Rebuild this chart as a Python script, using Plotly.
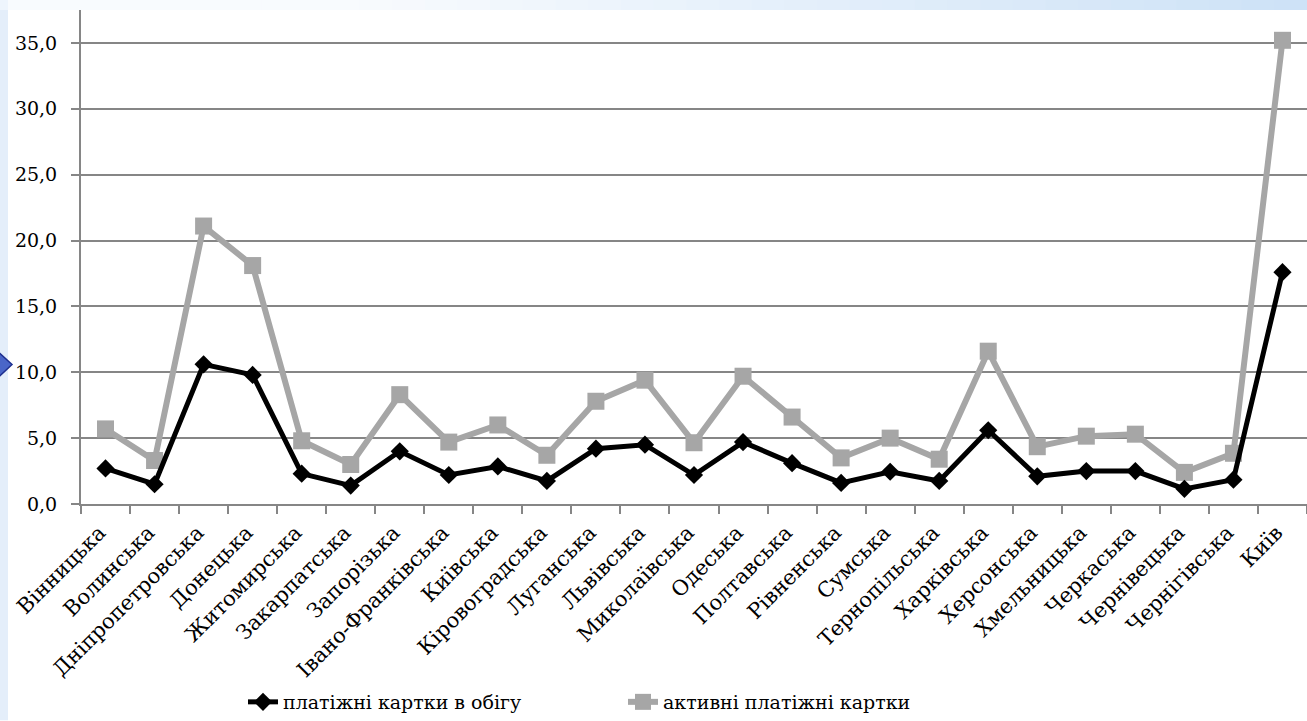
import plotly.graph_objects as go

regions = ["Вінницька", "Волинська", "Дніпропетровська", "Донецька", "Житомирська",
           "Закарпатська", "Запорізька", "Івано-Франківська", "Київська", "Кіровоградська",
           "Луганська", "Львівська", "Миколаївська", "Одеська", "Полтавська",
           "Рівненська", "Сумська", "Тернопільська", "Харківська", "Херсонська",
           "Хмельницька", "Черкаська", "Чернівецька", "Чернігівська", "Київ"]

cards_in_circulation = [2.7, 1.5, 10.6, 9.8, 2.3, 1.4, 4.0, 2.2, 2.85, 1.75,
                        4.2, 4.5, 2.2, 4.7, 3.1, 1.6, 2.45, 1.75, 5.6, 2.1,
                        2.5, 2.5, 1.15, 1.85, 17.6]

active_cards = [5.7, 3.3, 21.1, 18.1, 4.8, 3.0, 8.3, 4.7, 6.0, 3.7,
                7.8, 9.4, 4.65, 9.7, 6.6, 3.5, 5.0, 3.4, 11.6, 4.35,
                5.15, 5.3, 2.4, 3.85, 35.2]

series_names = ["платіжні картки в обігу", "активні платіжні картки"]

W, H = 1307, 721
L, R, T, B = 81, 0, 10, 215
PW, PH = W - L - R, H - T - B


def px(x):
    return (x - L) / PW


def py(y):
    return (H - B - y) / PH


FONT = "DejaVu Serif"
FS = 19
XFS = 21
GRID = "#868686"

fig = go.Figure()

fig.add_trace(go.Scatter(
    x=regions, y=active_cards, name=series_names[1], mode="lines+markers",
    line=dict(color="#a6a6a6", width=6),
    marker=dict(symbol="square", size=17, color="#a6a6a6"),
    legendrank=2,
))
fig.add_trace(go.Scatter(
    x=regions, y=cards_in_circulation, name=series_names[0], mode="lines+markers",
    line=dict(color="#000000", width=5),
    marker=dict(symbol="diamond", size=14, color="#000000"),
    legendrank=1,
))

shapes = []
# top light-blue strip with gradient
n = 40
for i in range(n):
    x0 = W * i / n
    x1 = W * (i + 1) / n
    t = max(0.0, (x0 - 350) / (W - 350))
    c0 = (248, 251, 254)
    c1 = (205, 226, 247)
    col = tuple(int(c0[k] + (c1[k] - c0[k]) * t) for k in range(3))
    shapes.append(dict(type="rect", xref="paper", yref="paper",
                       x0=px(x0), x1=px(x1) + 0.001, y0=py(10), y1=py(-2),
                       fillcolor="rgb(%d,%d,%d)" % col, line=dict(width=0), layer="below"))
# left strip
shapes.append(dict(type="rect", xref="paper", yref="paper",
                   x0=px(-2), x1=px(8), y0=py(H + 2), y1=py(10),
                   fillcolor="#e4eefa", line=dict(width=0), layer="below"))
shapes.append(dict(type="rect", xref="paper", yref="paper",
                   x0=px(-2), x1=px(8), y0=py(10), y1=py(-2),
                   fillcolor="#eef5fd", line=dict(width=0), layer="below"))
# blue arrow on left edge
shapes.append(dict(type="path", xref="paper", yref="paper",
                   path="M %f,%f L %f,%f L %f,%f Z" % (px(-3), py(352), px(12), py(366), px(-3), py(380)),
                   fillcolor="#4a66c8", line=dict(color="#1f2f8f", width=1.5), layer="above"))

fig.update_layout(
    width=W, height=H,
    margin=dict(l=L, r=R, t=T, b=B, pad=0),
    paper_bgcolor="#ffffff", plot_bgcolor="#ffffff",
    separators=", ",
    font=dict(family=FONT, size=FS, color="#000000"),
    showlegend=True,
    legend=dict(orientation="h", x=px(243), y=py(705), xanchor="left", yanchor="middle",
                font=dict(family=FONT, size=FS, color="#000000"),
                entrywidth=335, entrywidthmode="pixels",
                bgcolor="rgba(0,0,0,0)", traceorder="normal"),
    shapes=shapes,
    xaxis=dict(type="category", showgrid=False, showline=True, linecolor=GRID, linewidth=2,
               ticks="outside", ticklen=8, tickcolor=GRID, tickwidth=2, tickson="boundaries",
               tickangle=-45, tickfont=dict(family=FONT, size=XFS, color="#000000"),
               ticklabelstandoff=6, ticklabelshift=-6,
               range=[-0.5, 24.5], zeroline=False),
    yaxis=dict(range=[0, 37.5], dtick=5, tick0=0, tickformat=".1f", showgrid=True,
               gridcolor=GRID, gridwidth=2, showline=True, linecolor=GRID, linewidth=2,
               ticks="outside", ticklen=8, tickcolor=GRID, tickwidth=2, zeroline=False,
               ticklabelstandoff=10,
               tickfont=dict(family=FONT, size=FS, color="#000000")),
)

fig.write_html("out.html", config={"displayModeBar": False},
               post_script="document.body.style.margin='0';document.body.style.overflow='hidden';")
